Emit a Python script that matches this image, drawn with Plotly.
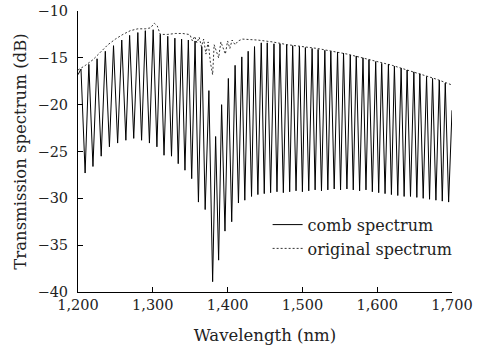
import plotly.graph_objects as go

# ---- data ----
# comb spectrum: local maxima (peaks) and minima (troughs)
peak_nm = [1200, 1204, 1214.5, 1225.5, 1236.5, 1247.5, 1258.5, 1269, 1280, 1290, 1300.5,
           1310, 1320, 1329.5, 1338.5, 1347.5, 1356.5, 1365.5, 1375, 1384, 1392, 1401,
           1410, 1419, 1427.5, 1436, 1445, 1453, 1462, 1470, 1479, 1487, 1496, 1504,
           1513, 1521, 1530, 1538, 1547, 1555, 1564, 1572, 1581, 1589, 1598, 1606,
           1615, 1623, 1632, 1640, 1649, 1657, 1666, 1674, 1683, 1691, 1700]
peak_db = [-16.8, -16.2, -15.7, -15.1, -14.3, -13.7, -13.1, -12.6, -12.3, -12.1, -12.0,
           -12.5, -12.7, -12.9, -13.0, -13.1, -13.2, -13.8, -18.5, -23.4, -20.0, -17.2,
           -15.8, -14.9, -14.3, -13.8, -13.4, -13.4, -13.5, -13.5, -13.6, -13.7, -13.8, -13.9,
           -14.0, -14.1, -14.2, -14.3, -14.4, -14.5, -14.7, -14.8, -15.0, -15.2, -15.4, -15.6,
           -15.7, -15.9, -16.1, -16.3, -16.5, -16.7, -17.0, -17.2, -17.4, -17.7, -20.6]

trough_nm = [1209.5, 1220, 1231, 1242, 1253, 1264, 1274.5, 1285, 1295.5, 1305.5, 1315,
             1325, 1334, 1343, 1352, 1361, 1370, 1380, 1388, 1396.5, 1405.5, 1414.5,
             1423, 1432, 1440.5, 1449, 1457.5, 1466, 1474.5, 1483, 1491.5, 1500, 1508.5,
             1517, 1525.5, 1534, 1542.5, 1551, 1559.5, 1568, 1576.5, 1585, 1593.5, 1602,
             1610.5, 1619, 1627.5, 1636, 1644.5, 1653, 1661.5, 1670, 1678.5, 1687, 1695.5]
trough_db = [-27.3, -26.6, -25.5, -24.5, -24.1, -23.8, -23.6, -23.8, -24.1, -24.5, -25.4,
             -25.5, -26.3, -27.0, -27.9, -30.4, -31.2, -38.9, -36.6, -33.5, -32.5, -30.5,
             -30.2, -29.8, -29.6, -29.5, -29.4, -29.3, -29.4, -29.3, -29.2, -29.3, -29.2,
             -29.1, -29.2, -29.1, -29.0, -29.1, -29.0, -29.1, -29.2, -29.1, -29.3, -29.4,
             -29.5, -29.6, -29.7, -29.8, -29.8, -29.9, -30.0, -30.1, -30.2, -30.3, -30.4]

# original spectrum (dashed)
orig_nm = [1200, 1210, 1220, 1230, 1240, 1250, 1260, 1270, 1280, 1290, 1297, 1302, 1306,
           1310, 1320, 1330, 1340, 1348, 1350, 1353, 1356, 1359, 1362, 1365, 1368, 1371,
           1374, 1377, 1380, 1382, 1385, 1388, 1391, 1394, 1397, 1400, 1403, 1406, 1410,
           1414, 1420, 1440, 1460, 1480, 1500, 1520, 1540, 1560, 1580, 1600, 1620, 1640,
           1660, 1680, 1700]
orig_db = [-16.3, -15.8, -15.2, -14.4, -13.6, -13.0, -12.5, -12.1, -11.9, -11.9, -11.8,
           -11.3, -11.6, -12.5, -12.5, -12.4, -12.4, -12.5, -12.6, -13.2, -12.7, -13.4,
           -12.8, -13.8, -13.0, -14.6, -13.3, -15.5, -16.8, -13.6, -14.2, -15.0, -13.3,
           -13.9, -14.6, -13.2, -14.0, -13.1, -13.6, -13.2, -13.0, -13.1, -13.3, -13.6,
           -13.8, -14.0, -14.3, -14.6, -15.0, -15.4, -15.8, -16.3, -16.8, -17.3, -17.9]

x_ticks = [1200, 1300, 1400, 1500, 1600, 1700]
y_ticks = [-40, -35, -30, -25, -20, -15, -10]

# merge peaks and troughs into one ordered comb trace
comb = sorted(list(zip(peak_nm, peak_db)) + list(zip(trough_nm, trough_db)))
comb_nm = [p[0] for p in comb]
comb_db = [p[1] for p in comb]

FONT = "DejaVu Serif"

fig = go.Figure()
fig.add_trace(go.Scatter(x=comb_nm, y=comb_db, mode="lines", name="comb spectrum",
                         line=dict(color="black", width=1)))
fig.add_trace(go.Scatter(x=orig_nm, y=orig_db, mode="lines", name="original spectrum",
                         line=dict(color="black", width=0.8, dash="2px,2px")))

fig.update_layout(
    width=480, height=349,
    margin=dict(l=78, r=28, t=11, b=57, autoexpand=False),
    paper_bgcolor="white", plot_bgcolor="white",
    font=dict(family=FONT, color="#222", size=15),
    showlegend=True,
    legend=dict(x=0.507, y=0.30, xanchor="left", yanchor="top",
                bgcolor="rgba(0,0,0,0)", font=dict(size=16, family=FONT),
                tracegroupgap=0, itemwidth=30),
)
fig.update_xaxes(range=[1200, 1700], tickvals=x_ticks, tickformat=",d",
                 showline=True, linecolor="black", linewidth=1, mirror=False,
                 ticks="inside", ticklen=5, tickcolor="black",
                 showgrid=False, zeroline=False, automargin=False,
                 tickfont=dict(size=14.5, family=FONT),
                 title=dict(text="Wavelength (nm)", font=dict(size=16.5, family=FONT), standoff=17))
fig.update_yaxes(range=[-40, -10], tickvals=y_ticks,
                 showline=True, linecolor="black", linewidth=1, mirror=False,
                 ticks="inside", ticklen=5, tickcolor="black",
                 showgrid=False, zeroline=False, automargin=False,
                 tickfont=dict(size=14.5, family=FONT), ticklabelstandoff=6,
                 title=dict(text="Transmission spectrum (dB)", font=dict(size=16.5, family=FONT), standoff=6))

fig.write_html("out.html", config={"displayModeBar": False},
               post_script="document.body.style.margin='0';document.body.style.overflow='hidden';")
